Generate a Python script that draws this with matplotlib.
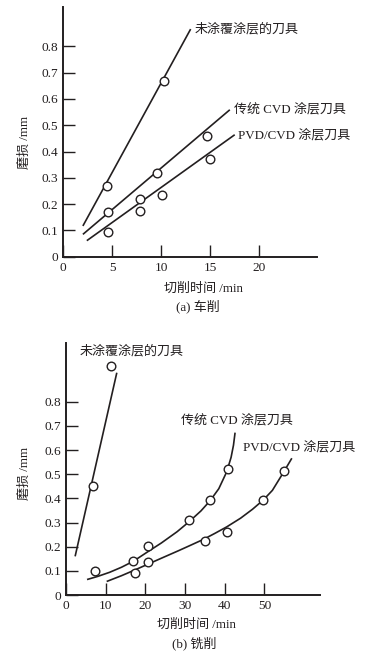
import matplotlib
matplotlib.use("Agg")
import matplotlib.pyplot as plt

################################################################################
# Data                                          #
################################################################################
# (a) turning - measured points
turn_unc_x = [4.5, 10.3]
turn_unc_y = [0.27, 0.67]
turn_cvd_x = [4.6, 7.8, 9.6, 14.7]
turn_cvd_y = [0.17, 0.22, 0.317, 0.46]
turn_pvd_x = [4.6, 7.8, 10.1, 15.0]
turn_pvd_y = [0.094, 0.172, 0.235, 0.373]
# (a) turning - fitted straight lines (end points)
turn_unc_fit_x = [2.0, 13.0]
turn_unc_fit_y = [0.117, 0.866]
turn_cvd_fit_x = [2.0, 17.0]
turn_cvd_fit_y = [0.085, 0.559]
turn_pvd_fit_x = [2.4, 17.5]
turn_pvd_fit_y = [0.061, 0.464]

# (b) milling - measured points
mill_unc_x = [6.9, 11.3]
mill_unc_y = [0.452, 0.948]
mill_cvd_x = [7.3, 16.9, 20.7, 31.0, 36.3, 40.7]
mill_cvd_y = [0.10, 0.142, 0.203, 0.31, 0.392, 0.52]
mill_pvd_x = [17.4, 20.7, 35.0, 40.5, 49.7, 55.0]
mill_pvd_y = [0.09, 0.138, 0.225, 0.262, 0.393, 0.515]
# (b) milling - fitted curves
mill_unc_fit_x = [2.3, 12.8]
mill_unc_fit_y = [0.16, 0.92]
mill_cvd_fit_x = [5.3, 8, 11, 14, 17, 20.7, 24, 28, 31, 34, 36.3, 38.5, 40.5, 41.6, 42.2, 42.6]
mill_cvd_fit_y = [0.064, 0.077, 0.094, 0.115, 0.14, 0.18, 0.215, 0.262, 0.303, 0.348,
                  0.39, 0.44, 0.51, 0.57, 0.62, 0.672]
mill_pvd_fit_x = [10.25, 14, 17.4, 20.7, 24, 28.3, 31, 34.6, 37.5, 40.5, 44, 47, 49.7, 52, 54.7, 56.9]
mill_pvd_fit_y = [0.056, 0.08, 0.104, 0.128, 0.152, 0.183, 0.203, 0.23, 0.255, 0.282,
                  0.318, 0.355, 0.393, 0.433, 0.505, 0.566]

lbl_unc = "未涂覆涂层的刀具"
lbl_cvd = "传统 CVD 涂层刀具"
lbl_pvd = "PVD/CVD 涂层刀具"
yticks = [0, 0.1, 0.2, 0.3, 0.4, 0.5, 0.6, 0.7, 0.8]
ytick_labels = ["0", "0.1", "0.2", "0.3", "0.4", "0.5", "0.6", "0.7", "0.8"]
turn_xticks = [0, 5, 10, 15, 20]
mill_xticks = [0, 10, 20, 30, 40, 50]

################################################################################
# Styling                                                                        #
################################################################################
INK = "#231f20"
FONTS = ["Liberation Serif", "Noto Sans CJK SC"]
plt.rcParams["font.family"] = FONTS
W, H = 382, 655

fig = plt.figure(figsize=(W / 100, H / 100), dpi=100)


def px_axes(left, top, right, bottom):
    return fig.add_axes([left / W, 1 - bottom / H, (right - left) / W, (bottom - top) / H])


def style_axes(ax, xticks):
    for s in ["top", "right"]:
        ax.spines[s].set_visible(False)
    for s in ["left", "bottom"]:
        ax.spines[s].set_linewidth(1.4)
        ax.spines[s].set_color(INK)
    ax.set_xticks(xticks)
    ax.set_xticklabels([str(t) for t in xticks])
    ax.set_yticks(yticks)
    ax.set_yticklabels(ytick_labels)
    ax.tick_params(direction="in", length=8.5, width=1.0, color=INK,
                   labelsize=9.6, labelcolor=INK, pad=3.5)


def draw(ax, px, py, fx, fy):
    ax.plot(fx, fy, color=INK, lw=1.2, solid_capstyle="butt")
    ax.plot(px, py, "o", ms=6.2, mfc="white", mec=INK, mew=1.0, zorder=3)


################################################################################
# (a) turning                                                                   #
################################################################################
ax1 = px_axes(63.3, 7, 317, 256.7)
ax1.set_xlim(0, 25.9)
ax1.set_ylim(0, 0.95)
style_axes(ax1, turn_xticks)
draw(ax1, turn_unc_x, turn_unc_y, turn_unc_fit_x, turn_unc_fit_y)
draw(ax1, turn_cvd_x, turn_cvd_y, turn_cvd_fit_x, turn_cvd_fit_y)
draw(ax1, turn_pvd_x, turn_pvd_y, turn_pvd_fit_x, turn_pvd_fit_y)
ax1.text(13.4, 0.867, lbl_unc, fontsize=9.4, color=INK, va="center", ha="left")
ax1.text(17.4, 0.562, lbl_cvd, fontsize=9.4, color=INK, va="center", ha="left")
ax1.text(17.8, 0.463, lbl_pvd, fontsize=9.4, color=INK, va="center", ha="left")

################################################################################
# (b) milling                                                                   #
################################################################################
ax2 = px_axes(66, 343, 320, 595)
ax2.set_xlim(0, 64)
ax2.set_ylim(0, 1.043)
style_axes(ax2, mill_xticks)
draw(ax2, mill_unc_x, mill_unc_y, mill_unc_fit_x, mill_unc_fit_y)
draw(ax2, mill_cvd_x, mill_cvd_y, mill_cvd_fit_x, mill_cvd_fit_y)
draw(ax2, mill_pvd_x, mill_pvd_y, mill_pvd_fit_x, mill_pvd_fit_y)
ax2.text(3.5, 1.011, lbl_unc, fontsize=9.4, color=INK, va="center", ha="left")
ax2.text(29.1, 0.724, lbl_cvd, fontsize=9.4, color=INK, va="center", ha="left")
ax2.text(44.5, 0.611, lbl_pvd, fontsize=9.4, color=INK, va="center", ha="left")

################################################################################
# Axis titles and captions                                                      #
################################################################################
def ftext(x, y, s, **kw):
    fig.text(x / W, 1 - y / H, s, color=INK, fontsize=9.4, ha="center", va="center", **kw)


ftext(25, 142, "磨损 /mm", rotation=90)
ftext(203, 289, "切削时间 /min")
ftext(198, 306, "(a) 车削")
ftext(25, 473, "磨损 /mm", rotation=90)
ftext(196, 625, "切削时间 /min")
ftext(194, 643, "(b) 铣削")

fig.savefig("out.png", dpi=100, facecolor="white")
